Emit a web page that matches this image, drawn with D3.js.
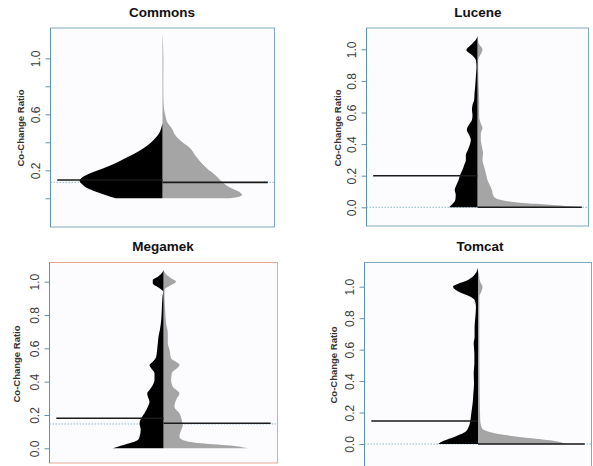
<!DOCTYPE html>
<html>
<head>
<meta charset="utf-8">
<script src="https://cdn.jsdelivr.net/npm/d3@7"></script>
<style>
  body { margin: 0; background: #fff; }
  text { font-family: "Liberation Sans", Arial, sans-serif; }
</style>
</head>
<body>
<script>
// data: [co-change ratio, density as a fraction of the half-panel width]
const projects = ["Commons", "Lucene", "Megamek", "Tomcat"];

const commonsBlack = [[0,0.42],[0.024,0.51],[0.048,0.60],[0.071,0.67],[0.095,0.71],[0.124,0.74],[0.155,0.705],[0.179,0.645],[0.214,0.527],[0.25,0.42],[0.286,0.333],[0.321,0.244],[0.357,0.17],[0.393,0.11],[0.429,0.065],[0.464,0.03],[0.5,0.012],[0.536,0]];
const commonsGray = [[0,0.6],[0.005,0.65],[0.024,0.71],[0.048,0.68],[0.083,0.59],[0.119,0.53],[0.167,0.47],[0.214,0.395],[0.262,0.336],[0.31,0.29],[0.357,0.247],[0.405,0.17],[0.452,0.113],[0.5,0.083],[0.536,0.048],[0.595,0.024],[0.69,0.009],[0.8,0.007],[1.0,0.008],[1.18,0]];

const luceneBlack = [[0,0.256],[0.025,0.22],[0.046,0.20],[0.078,0.196],[0.11,0.205],[0.141,0.19],[0.173,0.17],[0.205,0.157],[0.236,0.136],[0.268,0.12],[0.3,0.105],[0.33,0.105],[0.363,0.087],[0.395,0.07],[0.426,0.06],[0.458,0.075],[0.49,0.096],[0.52,0.08],[0.553,0.05],[0.584,0.045],[0.616,0.05],[0.648,0.045],[0.68,0.03],[0.72,0.027],[0.764,0.021],[0.827,0.015],[0.89,0.009],[0.932,0.015],[0.964,0.05],[0.996,0.1],[1.027,0.06],[1.06,0.015],[1.084,0]];
const luceneGray = [[0,0.93],[0.015,0.68],[0.025,0.44],[0.04,0.256],[0.057,0.166],[0.078,0.14],[0.11,0.13],[0.141,0.11],[0.173,0.09],[0.215,0.075],[0.257,0.06],[0.3,0.045],[0.342,0.05],[0.384,0.04],[0.426,0.03],[0.468,0.03],[0.5,0.045],[0.53,0.03],[0.574,0.015],[0.68,0.015],[0.785,0.009],[0.93,0.006],[1.0,0.045],[1.04,0.009],[1.084,0]];

const megamekBlack = [[0,0.444],[0.01,0.40],[0.03,0.30],[0.05,0.225],[0.07,0.21],[0.11,0.20],[0.15,0.21],[0.18,0.196],[0.21,0.167],[0.25,0.137],[0.28,0.123],[0.31,0.137],[0.33,0.143],[0.35,0.123],[0.38,0.094],[0.41,0.079],[0.45,0.079],[0.48,0.108],[0.5,0.123],[0.52,0.094],[0.55,0.064],[0.59,0.056],[0.63,0.05],[0.67,0.044],[0.71,0.032],[0.77,0.02],[0.83,0.015],[0.91,0.009],[0.94,0.003],[0.96,0.035],[0.99,0.094],[1.01,0.094],[1.03,0.05],[1.06,0.006],[1.07,0]];
const megamekGray = [[0,0.74],[0.014,0.62],[0.03,0.33],[0.05,0.17],[0.07,0.14],[0.11,0.155],[0.14,0.17],[0.17,0.16],[0.21,0.14],[0.25,0.096],[0.29,0.11],[0.33,0.14],[0.37,0.082],[0.41,0.067],[0.45,0.073],[0.5,0.14],[0.54,0.067],[0.59,0.053],[0.63,0.038],[0.69,0.038],[0.75,0.023],[0.83,0.015],[0.91,0.009],[0.95,0.009],[0.98,0.067],[1.0,0.11],[1.02,0.067],[1.05,0.015],[1.07,0]];

const tomcatBlack = [[0,0.35],[0.015,0.32],[0.036,0.24],[0.057,0.17],[0.078,0.11],[0.11,0.082],[0.15,0.067],[0.195,0.059],[0.26,0.047],[0.32,0.041],[0.385,0.035],[0.45,0.038],[0.51,0.032],[0.576,0.032],[0.64,0.038],[0.68,0.03],[0.746,0.03],[0.81,0.023],[0.873,0.018],[0.915,0.03],[0.936,0.067],[0.968,0.17],[1.0,0.22],[1.02,0.17],[1.04,0.097],[1.07,0.038],[1.1,0.009],[1.12,0]];
const tomcatGray = [[0,0.77],[0.015,0.71],[0.036,0.475],[0.057,0.24],[0.078,0.094],[0.1,0.035],[0.15,0.02],[0.3,0.015],[0.72,0.012],[0.94,0.012],[0.97,0.03],[1.0,0.04],[1.03,0.02],[1.085,0.006],[1.1,0]];

// bean lines (left side, right side) and overall dotted line
const blackLine = [0.131, 0.2, 0.18, 0.146];
const grayLine = [0.114, 0.0, 0.15, 0.0];
const overallLine = [0.114, 0.0, 0.146, 0.0];

const tickValues = [0, 0.2, 0.4, 0.6, 0.8, 1.0];
const commonsTickLabels = ["", "0.2", "", "0.6", "", "1.0"];
const tickLabels = ["0.0", "0.2", "0.4", "0.6", "0.8", "1.0"];
const yTitle = "Co-Change Ratio";

const blackSides = [commonsBlack, luceneBlack, megamekBlack, tomcatBlack];
const graySides = [commonsGray, luceneGray, megamekGray, tomcatGray];
const labelSets = [commonsTickLabels, tickLabels, tickLabels, tickLabels];

// panel layout in pixels
const layout = [
  {left: 50.5, right: 274.5, top: 28, bottom: 227, y0: 198.3, y1: 58.3, tx: 162, ty: 17, ax: 24, ay: 128, border: "#7ea9bd"},
  {left: 366.5, right: 588.5, top: 28, bottom: 226, y0: 207.3, y1: 49.3, tx: 478, ty: 17, ax: 341, ay: 128, border: "#7ea9bd"},
  {left: 49.5, right: 277.5, top: 262.5, bottom: 463, y0: 448.3, y1: 281.7, tx: 163, ty: 251, ax: 20, ay: 364, border: "#e6a892"},
  {left: 364.5, right: 591.5, top: 262.5, bottom: 470, y0: 444, y1: 286.7, tx: 480, ty: 251, ax: 336.5, ay: 365, border: "#7ea9bd"}
];

const svg = d3.select("body")
  .append("svg")
    .attr("width", 593)
    .attr("height", 466);

svg.append("rect").attr("width", 593).attr("height", 466).attr("fill", "#fff");

projects.forEach(function(name, i) {
  const L = layout[i];
  const g = svg.append("g");

  const y = d3.scaleLinear().domain([0, 1]).range([L.y0, L.y1]);
  const x = d3.scaleLinear().domain([-1, 1]).range([L.left, L.right]);

  g.append("rect")
      .attr("x", L.left).attr("y", L.top)
      .attr("width", L.right - L.left).attr("height", L.bottom - L.top)
      .attr("fill", "#fcfcfe")
      .attr("stroke", L.border)
      .attr("stroke-width", 1);
  g.append("line")
      .attr("x1", L.left).attr("x2", L.left)
      .attr("y1", L.top).attr("y2", L.bottom)
      .attr("stroke", "#5d93ad");

  // overall line
  g.append("line")
      .attr("x1", L.left).attr("x2", L.right)
      .attr("y1", y(overallLine[i])).attr("y2", y(overallLine[i]))
      .attr("stroke", "#8dbad0")
      .attr("stroke-width", 1)
      .attr("stroke-dasharray", "1.5,1.5");

  const blackArea = d3.area()
      .y(d => y(d[0]))
      .x0(x(0))
      .x1(d => x(-d[1]))
      .curve(d3.curveMonotoneY);
  const grayArea = d3.area()
      .y(d => y(d[0]))
      .x0(x(0))
      .x1(d => x(d[1]))
      .curve(d3.curveMonotoneY);

  g.append("path").datum(graySides[i]).attr("d", grayArea).attr("fill", "#a5a5a5");
  g.append("path").datum(blackSides[i]).attr("d", blackArea).attr("fill", "#000");

  // bean lines
  g.append("line")
      .attr("x1", x(-0.94)).attr("x2", x(0))
      .attr("y1", y(blackLine[i])).attr("y2", y(blackLine[i]))
      .attr("stroke", "#1a1a1a").attr("stroke-width", 1.6);
  g.append("line")
      .attr("x1", x(0)).attr("x2", x(0.94))
      .attr("y1", y(grayLine[i])).attr("y2", y(grayLine[i]))
      .attr("stroke", "#1a1a1a").attr("stroke-width", 1.6);

  // y axis
  const labels = labelSets[i];
  const axis = g.append("g")
      .attr("transform", "translate(" + L.left + ",0)")
      .call(d3.axisLeft(y).tickValues(tickValues).tickSize(5)
        .tickFormat((d, k) => labels[k]));
  axis.select(".domain").remove();
  axis.selectAll("line").attr("stroke", "#5d93ad");
  axis.selectAll("text")
      .attr("transform", "rotate(-90)")
      .attr("text-anchor", "middle")
      .attr("x", 0)
      .attr("y", -10.5)
      .attr("dy", 0)
      .attr("fill", "#3c3c3c")
      .attr("font-size", "12px")
      .attr("font-family", "'Liberation Sans', Arial, sans-serif");

  // titles
  g.append("text")
      .attr("x", L.tx).attr("y", L.ty)
      .attr("text-anchor", "middle")
      .attr("font-size", "13.5px")
      .attr("font-weight", "bold")
      .attr("fill", "#111")
      .text(name);
  g.append("text")
      .attr("transform", "translate(" + L.ax + "," + L.ay + ") rotate(-90)")
      .attr("text-anchor", "middle")
      .attr("font-size", "9.5px")
      .attr("font-weight", "bold")
      .attr("fill", "#333")
      .text(yTitle);
});
</script>
</body>
</html>
